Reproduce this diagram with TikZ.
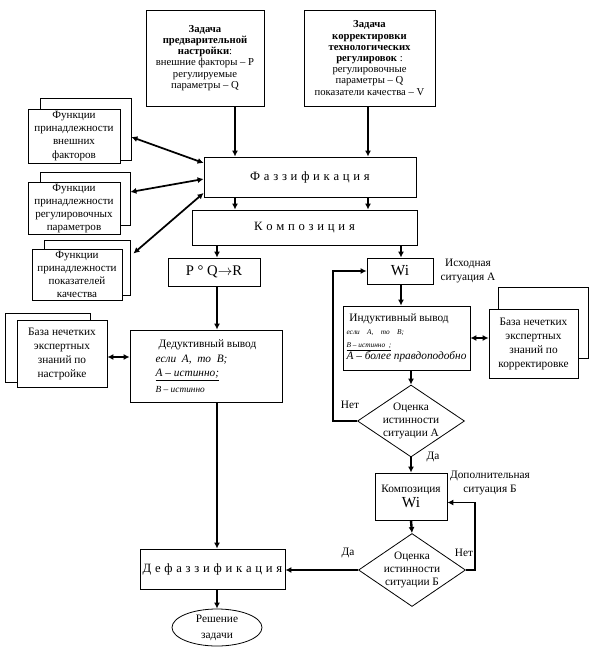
\documentclass[tikz,border=0pt]{standalone}
\usepackage{fontspec}
\setmainfont{Liberation Serif}
\usetikzlibrary{shapes.geometric,arrows.meta,calc}
\makeatletter
\newcommand\spreadtxt[1]{\def\sp@sep{}\@tfor\sp@ch:=#1\do{\sp@sep\sp@ch\def\sp@sep{\kern2.8pt}}}
\makeatother
\begin{document}
\begin{tikzpicture}[x=0.75pt,y=-0.75pt,
  sz/.style 2 args={minimum width=#1*0.75pt,minimum height=#2*0.75pt},
  bx/.style={draw,fill=white,line width=0.6pt,inner sep=1pt,align=center,font=\fontsize{8.5}{10.5}\selectfont},
  fbx/.style={bx,font=\fontsize{8.3}{9.8}\selectfont},
  task/.style={bx,font=\fontsize{8}{8.4}\selectfont},
  big/.style={bx,font=\fontsize{9.5}{11}\selectfont},
  dia/.style={draw,fill=white,line width=0.6pt,diamond,inner sep=0pt},
  arr/.style={line width=1.8pt,-{Latex[length=4.5pt,width=4.5pt]}},
  darr/.style={line width=1.3pt,{Latex[length=4.5pt,width=4.5pt]}-{Latex[length=4.5pt,width=4.5pt]}},
  loopl/.style={line width=1.1pt,-{Latex[length=4.5pt,width=4.5pt]}},
  lbl/.style={font=\fontsize{8.5}{10}\selectfont,align=center,inner sep=0pt}]
\useasboundingbox (0,0) rectangle (604,652);

% column coordinates
\coordinate (cA) at (235,0);
\coordinate (cB) at (368,0);
\coordinate (cL) at (217,0);
\coordinate (cR) at (401,0);
\coordinate (cS) at (411,0);
\coordinate (lpA) at (333,0);
\coordinate (lpB) at (475,0);

% task boxes
\node[task,sz={118}{96}] (t1) at (205,58) {\textbf{Задача}\\\textbf{предварительной}\\\textbf{настройки}:\\внешние факторы – P\\регулируемые\\параметры – Q};
\node[task,sz={131}{96}] (t2) at (369.5,58) {\textbf{Задача}\\\textbf{корректировки}\\\textbf{технологических}\\\textbf{регулировок} :\\регулировочные\\параметры – Q\\показатели качества – V};

% main chain
\node[big,sz={212}{40}] (fuzz) at (310,177) {\spreadtxt{Фаззификация}};
\node[big,sz={225}{35}] (comp) at (304.5,227.5) {\spreadtxt{Композиция}};
\node[bx,sz={92}{28},font=\fontsize{11}{13}\selectfont] (pqr) at (214,272) {P ° Q$\rightarrow$R};
\node[bx,sz={66}{26},font=\fontsize{11.5}{13}\selectfont] (wi) at (400,271) {Wi};

% left stacked boxes
\node[bx,sz={91}{62}] (f1b) at (85.5,129) {};
\node[fbx,sz={92}{54}] (f1) at (74,136) {Функции\\принадлежности\\внешних\\факторов};
\node[bx,sz={90}{53}] (f2b) at (85,198.5) {};
\node[fbx,sz={92}{51}] (f2) at (74,208.5) {Функции\\принадлежности\\регулировочных\\параметров};
\node[bx,sz={86}{55}] (f3b) at (87,267.5) {};
\node[fbx,sz={90}{51}] (f3) at (77,274.5) {Функции\\принадлежности\\показателей\\качества};

\node[bx,sz={85}{69}] (kb1b) at (47.5,347.5) {};
\node[bx,sz={90}{67}] (kb1) at (62,353.5) {База нечетких\\экспертных\\знаний по\\настройке};
\node[bx,sz={90}{71}] (kb2b) at (543,322.5) {};
\node[bx,sz={89}{69}] (kb2) at (533.5,343.5) {База нечетких\\экспертных\\знаний по\\корректировке};

% inference boxes
\node[bx,sz={152}{72},align=left] (ded) at (206,366) {\ Дедуктивный вывод\\[1pt]
 \textit{если\ \ A,\ \ то\ \ B;}\\
 \underline{\textit{A – истинно;}}\\[1pt]
 {\fontsize{7}{8}\selectfont\textit{B – истинно}}};
\node[bx,sz={127}{64},align=left,font=\fontsize{8.5}{9.5}\selectfont] (ind) at (406.5,338) {\ Индуктивный вывод\\
 {\fontsize{5.5}{6.5}\selectfont\itshape если\quad A,\quad то\quad B;}\\
 \underline{{\fontsize{5.5}{6.5}\selectfont\itshape B – истинно\ \ ;}}\\
 \textit{A – более правдоподобно}};

\node[dia,sz={107}{72},label={[lbl]center:Оценка\\истинности\\ситуации А}] (dA) at (411,421) {};
\node[bx,sz={72}{47}] (cw) at (411,496.5) {Композиция\\[1pt]{\fontsize{11.5}{13}\selectfont Wi}};
\node[dia,sz={107}{73},label={[lbl]center:Оценка\\истинности\\ситуации Б}] (dB) at (412,570) {};

\node[big,sz={145}{40}] (defz) at (212.5,569) {\spreadtxt{Дефаззификация}};
\node[draw,fill=white,line width=0.6pt,ellipse,inner sep=0pt,sz={90}{37},align=center,font=\fontsize{8.5}{12}\selectfont] (res) at (217,627.5) {Решение\\задачи};

% labels
\node[lbl] (lNoA) at (350,405) {Нет};
\node[lbl] (lYesA) at (433,457) {Да};
\node[lbl] (lIsx) at (468,271) {Исходная\\ситуация А};
\node[lbl] (lDop) at (490,483) {Дополнительная\\ситуация Б};
\node[lbl] (lYesB) at (348,553) {Да};
\node[lbl] (lNoB) at (464,553) {Нет};

% vertical arrows
\draw[arr] (t1.south -| cA) -- (fuzz.north -| cA);
\draw[arr] (t2.south -| cB) -- (fuzz.north -| cB);
\draw[arr] (fuzz.south -| cA) -- (comp.north -| cA);
\draw[arr] (fuzz.south -| cB) -- (comp.north -| cB);
\draw[arr] (comp.south -| cL) -- (pqr.north -| cL);
\draw[arr] (comp.south -| cR) -- (wi.north -| cR);
\draw[arr] (pqr.south -| cL) -- (ded.north -| cL);
\draw[arr] (ded.south -| cL) -- (defz.north -| cL);
\draw[arr] (defz.south -| cL) -- (res.north);
\draw[arr] (wi.south -| cR) -- (ind.north -| cR);
\draw[arr] (ind.south -| cS) -- (dA.north);
\draw[arr] (dA.south) -- (cw.north);
\draw[arr] (cw.south) -- (dB.north);
\draw[arr] (dB.west) -- (dB.west -| defz.east);

% feedback loops
\draw[loopl] (dA.west) -- (dA.west -| lpA) -- (wi.west -| lpA) -- (wi.west);
\coordinate (cwin) at ($(cw.east)+(0,6)$);
\draw[loopl] (dB.east) -- (dB.east -| lpB) -- (cwin -| lpB) -- (cwin);

% double arrows
\draw[darr] ($(f1b.east)+(0,8)$) -- ($(fuzz.west)+(0,-14)$);
\draw[darr] ($(f2b.east)+(0,-6.5)$) -- ($(fuzz.west)+(0,2)$);
\draw[darr] ($(f3b.east)+(3,-14)$) -- ($(fuzz.west)+(0,16)$);
\coordinate (k1) at ($(kb1.east)+(0,3.5)$);
\draw[darr] (k1) -- (k1 -| ded.west);
\draw[darr] (ind.east) -- (ind.east -| kb2.west);
\end{tikzpicture}
\end{document}
